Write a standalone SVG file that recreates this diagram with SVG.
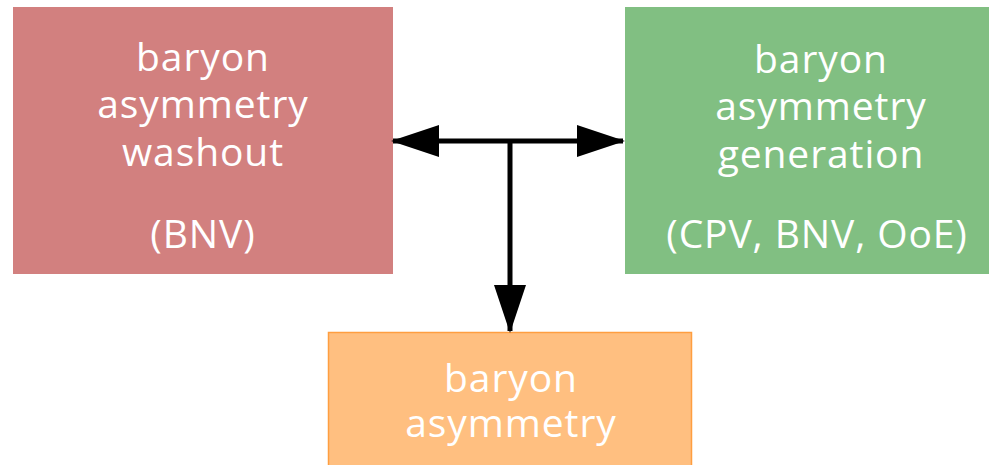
<svg xmlns="http://www.w3.org/2000/svg" width="989" height="465" viewBox="0 0 989 465">
  <style>
    .label { font-family: "Open Sans", "DejaVu Sans", sans-serif; font-size: 39px; letter-spacing: 0.9px; fill: #ffffff; text-anchor: middle; }
    .wire { stroke: #000000; stroke-width: 5; fill: none; }
  </style>
  <defs>
    <marker id="head" viewBox="0 0 48 32" refX="46" refY="16" markerWidth="48" markerHeight="32" markerUnits="userSpaceOnUse" orient="auto-start-reverse">
      <path d="M0,0 L48,16 L0,32 Z" fill="#000000"/>
    </marker>
  </defs>

  <rect width="989" height="465" fill="#ffffff"/>

  <g id="washout">
    <rect x="13" y="7" width="380" height="267" fill="#d2807f"/>
    <text class="label" x="203" y="71">baryon</text>
    <text class="label" x="203" y="118">asymmetry</text>
    <text class="label" x="203" y="166">washout</text>
    <text class="label" x="203" y="248">(BNV)</text>
  </g>

  <g id="generation">
    <rect x="625" y="7" width="380" height="267" fill="#81bf82"/>
    <text class="label" x="821" y="73">baryon</text>
    <text class="label" x="821" y="120">asymmetry</text>
    <text class="label" x="821" y="168">generation</text>
    <text class="label" x="817" y="248">(CPV, BNV, OoE)</text>
  </g>

  <g id="asymmetry">
    <rect x="328.5" y="332.5" width="363" height="140" fill="#ffbf80" stroke="#ff9e40" stroke-width="1.5"/>
    <text class="label" x="511" y="392">baryon</text>
    <text class="label" x="511" y="437">asymmetry</text>
  </g>

  <g id="connectors">
    <line class="wire" x1="393" y1="141" x2="623" y2="141" marker-start="url(#head)" marker-end="url(#head)"/>
    <line class="wire" x1="510" y1="141" x2="510" y2="331" marker-end="url(#head)"/>
  </g>
</svg>
